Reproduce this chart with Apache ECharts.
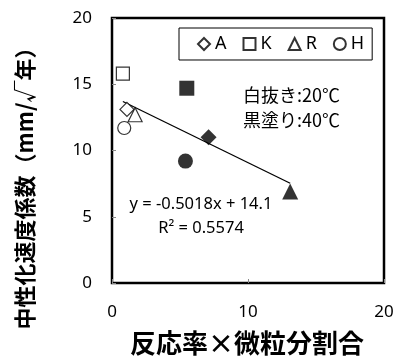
<!DOCTYPE html>
<html>
<head>
<meta charset="utf-8">
<script src="https://cdn.jsdelivr.net/npm/echarts@6/dist/echarts.min.js"></script>
<style>
  html, body { margin: 0; padding: 0; background: #fff; }
  #chart { width: 395px; height: 356px; }
</style>
</head>
<body>
<div id="chart"></div>
<script>
// Cement types
const categories = ['A', 'K', 'R', 'H'];
const symbols = ['diamond', 'rect', 'triangle', 'circle'];

// 20°C curing (open markers)
const x20 = [1.1, 0.8, 1.7, 0.9];
const y20 = [13.1, 15.8, 12.7, 11.7];

// 40°C curing (filled markers)
const x40 = [7.1, 5.5, 13.1, 5.4];
const y40 = [11.0, 14.7, 6.9, 9.2];

// Linear fit over all points
const fitSlope = -0.5018;
const fitIntercept = 14.1;
const fitR2 = 0.5574;

// Axis ticks and titles
const xTicks = [0, 10, 20];
const yTicks = [0, 5, 10, 15, 20];
const xTitle = '反応率×微粒分割合';
const yTitle = '中性化速度係数（mm/√年）';

const FONT = '"Noto Sans", "Noto Sans CJK JP", sans-serif';
const CJK = '"Noto Sans CJK JP", sans-serif';

const allX = x20.concat(x40);
const xMin = Math.min(...allX), xMax = Math.max(...allX);
const fitLine = [xMin, xMax].map(x => [x, fitSlope * x + fitIntercept]);

const series = [];
categories.forEach((c, i) => {
  series.push({
    name: c, type: 'scatter', symbol: symbols[i],
    symbolSize: symbols[i] === 'triangle' ? 14 : (symbols[i] === 'diamond' ? 14 : 13),
    itemStyle: { color: '#fff', borderColor: '#000', borderWidth: 1.2 },
    data: [[x20[i], y20[i]]], z: 3
  });
});
categories.forEach((c, i) => {
  series.push({
    name: c + '40', type: 'scatter', symbol: symbols[i],
    symbolSize: symbols[i] === 'triangle' ? 16 : (symbols[i] === 'diamond' ? 16 : 15),
    itemStyle: { color: '#000' },
    data: [[x40[i], y40[i]]], z: 3
  });
});
series.push({
  name: 'fit', type: 'line', data: fitLine, symbol: 'none',
  lineStyle: { color: '#000', width: 1.3 }, z: 2, silent: true
});

const chart = echarts.init(document.getElementById('chart'));
chart.setOption({
  animation: false,
  backgroundColor: '#fff',
  grid: {
    left: 112, right: 11, top: 18, bottom: 73,
    outerBoundsMode: 'none', containLabel: false,
    show: true, borderColor: '#000', borderWidth: 2.5, backgroundColor: '#fff'
  },
  legend: {
    data: categories,
    left: 179, top: 28,
    itemWidth: 12, itemHeight: 12, itemGap: 16,
    padding: [7, 8, 7, 18],
    borderColor: '#000', borderWidth: 1,
    textStyle: { fontFamily: FONT, fontSize: 18, color: '#000' }
  },
  xAxis: {
    type: 'value', min: 0, max: 20, interval: 10,
    axisLine: { show: false },
    axisTick: { inside: true, length: 4, lineStyle: { color: '#888' } },
    splitLine: { show: false },
    axisLabel: { fontFamily: FONT, fontSize: 17, color: '#000', margin: 21,
      formatter: v => xTicks.includes(v) ? String(v) : '' }
  },
  yAxis: {
    type: 'value', min: 0, max: 20, interval: 5,
    axisLine: { show: false },
    axisTick: { inside: true, length: 4, lineStyle: { color: '#888' } },
    splitLine: { show: false },
    axisLabel: { fontFamily: FONT, fontSize: 17, color: '#000', margin: 20,
      formatter: v => yTicks.includes(v) ? String(v) : '' }
  },
  graphic: [
    { type: 'text', x: 247, y: 343, style: {
        text: xTitle, font: 'bold 26px ' + CJK, fill: '#000',
        align: 'center', verticalAlign: 'middle' } },
    { type: 'text', x: 25, y: 183, rotation: Math.PI / 2, style: {
        text: yTitle, font: 'bold 22px ' + CJK, fill: '#000',
        align: 'center', verticalAlign: 'middle' } },
    { type: 'text', left: 243, top: 86, style: { text: '白抜き:20℃', font: '18px ' + CJK, fill: '#000' } },
    { type: 'text', left: 243, top: 111, style: { text: '黒塗り:40℃', font: '18px ' + CJK, fill: '#000' } },
    { type: 'text', x: 201, y: 204, style: {
        text: 'y = ' + fitSlope + 'x + ' + fitIntercept, font: '16.5px ' + FONT,
        fill: '#000', align: 'center', verticalAlign: 'middle' } },
    { type: 'text', x: 201, y: 228, style: {
        text: 'R² = ' + fitR2, font: '16.5px ' + FONT,
        fill: '#000', align: 'center', verticalAlign: 'middle' } }
  ],
  series: series
});
</script>
</body>
</html>
